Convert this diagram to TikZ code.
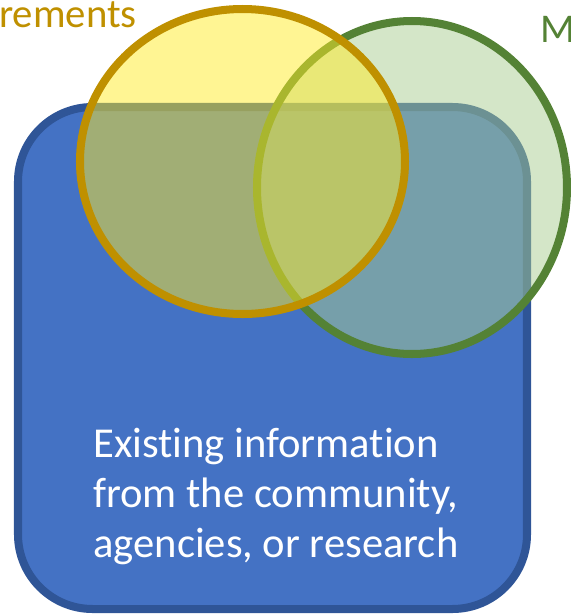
\documentclass[tikz,border=0pt]{standalone}
\usepackage{fontspec}
\setmainfont{Carlito}[Ligatures=NoCommon]
\usepackage{tikz}
\usetikzlibrary{positioning}
\definecolor{azulfundo}{HTML}{4472C4}
\definecolor{azulborda}{HTML}{2F5597}
\definecolor{verdefill}{HTML}{A9CD91}
\definecolor{verdeborda}{HTML}{548235}
\definecolor{amarelofill}{HTML}{FFEB28}
\definecolor{ouro}{HTML}{BF9000}
\newcommand{\bolha}[4]{\fill[#1,fill opacity=0.5] #3 ellipse (#4);
  \draw[#2,line width=5.7pt] #3 ellipse (#4);}

\begin{document}
\begin{tikzpicture}[x=0.025cm,y=-0.025cm,
    caixa/.style={fill=azulfundo,draw=azulborda,line width=5.7pt,rounded corners=53pt},
    rotulo/.style={font=\fontsize{29}{34}\selectfont,inner sep=0pt},
    textoinfo/.style={font=\fontsize{30.3}{35.6}\selectfont,text=white,align=left,inner sep=0pt}]
      \useasboundingbox (0,0) rectangle (571,614);
      % caixa azul
      \draw[caixa] (18,107) rectangle (527,609);
      % bolha verde, por baixo
      \bolha{verdefill}{verdeborda}{(412,187.5)}{155 and 166.5}
      % bolha amarela, por cima
      \bolha{amarelofill}{ouro}{(242.5,161.5)}{162.5 and 152.5}
      % textos
      \node[textoinfo,anchor=north west] (info) at (93,428) {Existing information\\from the community,\\agencies, or research};
      \node[rotulo,text=ouro,anchor=base east] (req) at (137,27) {rements};
      \node[rotulo,text=verdeborda,anchor=base west] (m) at (540,42) {M};
    \end{tikzpicture}
\end{document}
